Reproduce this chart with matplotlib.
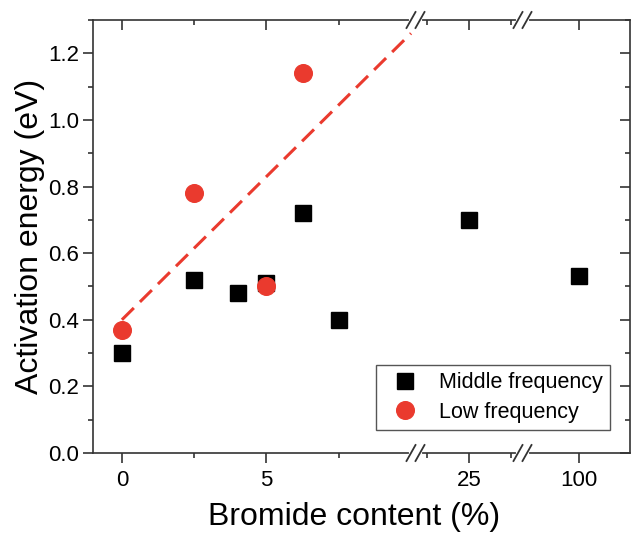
import numpy as np
import matplotlib
matplotlib.use('Agg')
import matplotlib.pyplot as plt
from matplotlib.lines import Line2D
from matplotlib.ticker import FormatStrFormatter

plt.rcParams['font.family'] = ['Liberation Sans', 'DejaVu Sans']

# Bromide content (%) vs. activation energy (eV)
mid_x = [0, 2.5, 4, 5, 6.25, 7.5, 25, 100]
mid_y = [0.30, 0.52, 0.48, 0.51, 0.72, 0.40, 0.70, 0.53]
low_x = [0, 2.5, 5, 6.25]
low_y = [0.37, 0.78, 0.50, 1.14]

# linear trend of the low-frequency points, ends where the first piece stops
trend_x = [0, 10]
trend_y = [0.40, 1.26]

x_major = [0, 5, 25, 100]
x_major_labels = ['0', '5', '25', '100']
x_minor = [2.5, 7.5, 20, 30]

# broken x axis: three linear pieces joined by narrow gaps
seg_data = [-1, 10, 19.16, 30.84, 74, 125.5]
seg_pos = [93, 411, 420, 518, 527, 630]
gaps = [(411, 420), (518, 527)]


def fwd(x):
    return np.interp(x, seg_data, seg_pos)


def inv(p):
    return np.interp(p, seg_pos, seg_data)


red = '#ea3a2e'
frame = '#333333'
major_len, minor_len = 7.2, 3.6

fig = plt.figure(figsize=(6.32, 5.33), dpi=100)
ax = fig.add_axes([93 / 632, 80 / 533, 537 / 632, 433 / 533])
ax.set_xscale('function', functions=(fwd, inv))
ax.set_xlim(seg_data[0], seg_data[-1])
ax.set_ylim(0, 1.3)

ax.plot(trend_x, trend_y, color=red, lw=2.2, dashes=(5.5, 2.8), zorder=2)
ax.plot(mid_x, mid_y, 's', color='black', ms=11.5, ls='none',
        label='Middle frequency', zorder=3)
ax.plot(low_x, low_y, 'o', color=red, ms=12.7, ls='none',
        label='Low frequency', zorder=4)

ax.set_xticks(x_major)
ax.set_xticklabels(x_major_labels)
ax.set_xticks(x_minor, minor=True)
ax.set_yticks(np.arange(0, 1.21, 0.2))
ax.set_yticks(np.arange(0, 1.31, 0.1), minor=True)
ax.yaxis.set_major_formatter(FormatStrFormatter('%.1f'))
ax.tick_params(which='both', direction='out', width=1.2, color=frame,
               labelsize=16, top=False, right=False)
ax.tick_params(which='major', length=major_len)
ax.tick_params(which='minor', length=minor_len)
ax.tick_params(axis='x', pad=5)
ax.tick_params(axis='y', pad=3)
for s in ax.spines.values():
    s.set_color(frame)
    s.set_linewidth(1.2)

# inward ticks on the top and right sides
top = ax.twiny()
top.set_xscale('function', functions=(fwd, inv))
top.set_xlim(ax.get_xlim())
top.set_xticks(x_major)
top.set_xticks(x_minor, minor=True)
top.tick_params(which='both', direction='in', width=1.2, color=frame,
                labeltop=False)
top.tick_params(which='major', length=major_len)
top.tick_params(which='minor', length=minor_len)

right = ax.twinx()
right.set_ylim(ax.get_ylim())
right.set_yticks(np.arange(0, 1.21, 0.2))
right.set_yticks(np.arange(0, 1.31, 0.1), minor=True)
right.tick_params(which='both', direction='in', width=1.2, color=frame,
                  labelright=False)
right.tick_params(which='major', length=major_len)
right.tick_params(which='minor', length=minor_len)
for extra in (top, right):
    for s in extra.spines.values():
        s.set_visible(False)

ax.set_xlabel('Bromide content (%)', fontsize=23, labelpad=8)
ax.xaxis.label.set_x(0.487)
ax.set_ylabel('Activation energy (eV)', fontsize=23, labelpad=2)

leg = ax.legend(loc='lower right', bbox_to_anchor=(0.963, 0.053),
                borderaxespad=0, fancybox=False, framealpha=1,
                edgecolor='#555555', fontsize=15.5, handletextpad=0.55,
                borderpad=0.35, labelspacing=0.38)
leg.get_frame().set_linewidth(1.0)

# break marks on the top and bottom spines
span = seg_pos[-1] - seg_pos[0]
dx = 4.5 / 537
dy = 8 / 433
for v0, v1 in gaps:
    a0 = (v0 - seg_pos[0]) / span
    a1 = (v1 - seg_pos[0]) / span
    for y in (0, 1):
        fig.add_artist(Line2D([a0, a1], [y, y], color='white', lw=3,
                              transform=ax.transAxes, zorder=5))
        for a in (a0, a1):
            fig.add_artist(Line2D([a - dx, a + dx], [y - dy, y + dy],
                                  color=frame, lw=1.3,
                                  transform=ax.transAxes, zorder=6))

fig.savefig('out.png', dpi=100)
